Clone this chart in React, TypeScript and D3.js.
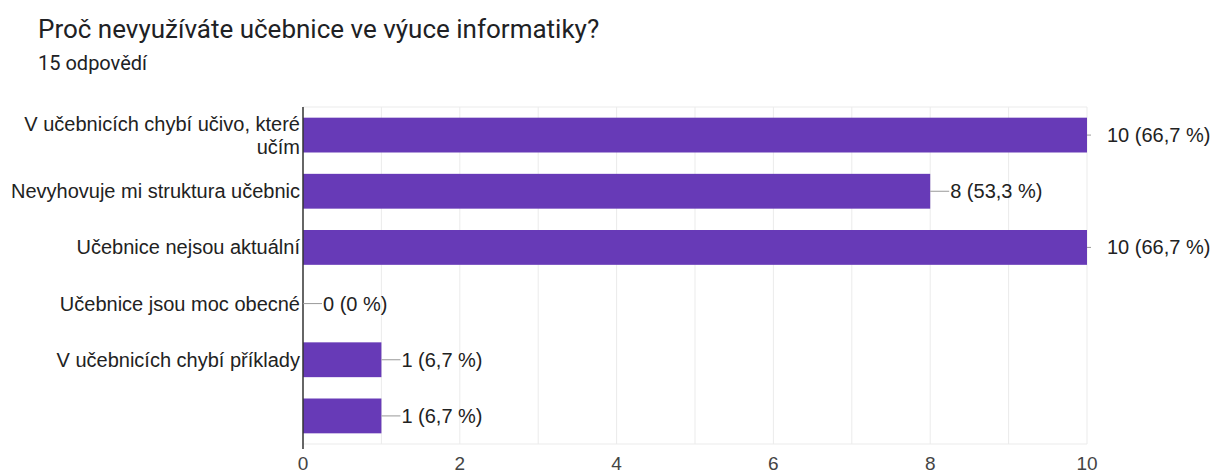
import React, { useEffect, useRef } from 'react';
import * as d3 from 'd3';

const categories = [
  ['V učebnicích chybí učivo, které', 'učím'],
  ['Nevyhovuje mi struktura učebnic'],
  ['Učebnice nejsou aktuální'],
  ['Učebnice jsou moc obecné'],
  ['V učebnicích chybí příklady'],
  [''],
];
const counts = [10, 8, 10, 0, 1, 1];
const percents = ['66,7', '53,3', '66,7', '0', '6,7', '6,7'];
const xTicks = [0, 2, 4, 6, 8, 10];

const App: React.FC = () => {
  const svgRef = useRef<SVGSVGElement>(null);

  useEffect(() => {
    if (!svgRef.current) return;
    const svg = d3.select(svgRef.current);
    svg.selectAll('*').remove();

    const width = 1215;
    const height = 474;
    const left = 303;
    const right = 1087;
    const top = 107;
    const bottom = 444;

    const x = d3.scaleLinear().domain([0, 10]).range([left, right]);
    const y = d3.scaleBand<number>()
      .domain(d3.range(categories.length))
      .range([top, bottom])
      .paddingInner(0.38)
      .paddingOuter(0.19);

    // titulek
    svg.append('text')
      .attr('x', 38).attr('y', 38)
      .style('font-family', 'Roboto, sans-serif')
      .style('font-size', '26px')
      .attr('fill', '#202124')
      .text('Proč nevyužíváte učebnice ve výuce informatiky?');

    svg.append('text')
      .attr('x', 38).attr('y', 70)
      .style('font-family', 'Roboto, sans-serif')
      .style('font-size', '20px')
      .attr('fill', '#202124')
      .text('15 odpovědí');

    // mřížka
    const grid = svg.append('g');
    grid.selectAll('line')
      .data(d3.range(1, 11))
      .enter().append('line')
      .attr('x1', (d) => x(d)).attr('x2', (d) => x(d))
      .attr('y1', top).attr('y2', bottom)
      .attr('stroke', '#ebebeb').attr('stroke-width', 1);
    grid.append('line')
      .attr('x1', left).attr('x2', right)
      .attr('y1', top).attr('y2', top)
      .attr('stroke', '#ebebeb');
    grid.append('line')
      .attr('x1', left).attr('x2', right)
      .attr('y1', bottom).attr('y2', bottom)
      .attr('stroke', '#ebebeb');

    // sloupce
    svg.selectAll('.bar')
      .data(counts)
      .enter().append('rect')
      .attr('class', 'bar')
      .attr('x', left)
      .attr('y', (_, i) => y(i)!)
      .attr('width', (d) => x(d) - left)
      .attr('height', y.bandwidth())
      .attr('fill', '#673ab7');

    // osa
    svg.append('line')
      .attr('x1', left).attr('x2', left)
      .attr('y1', top).attr('y2', bottom + 5)
      .attr('stroke', '#333').attr('stroke-width', 1.5);

    // popisky hodnot
    const lab = svg.append('g')
      .style('font-family', 'Arial, "Liberation Sans", sans-serif')
      .style('font-size', '20px');
    counts.forEach((c, i) => {
      const cy = y(i)! + y.bandwidth() / 2;
      const end = x(c);
      const isMax = c === 10;
      lab.append('line')
        .attr('x1', end).attr('x2', end + (isMax ? 4 : 19))
        .attr('y1', cy).attr('y2', cy)
        .attr('stroke', '#999').attr('stroke-width', 1);
      lab.append('text')
        .attr('x', end + 20)
        .attr('y', cy)
        .attr('dy', '0.35em')
        .attr('fill', '#222')
        .text(`${c} (${percents[i]} %)`);
    });

    // kategorie
    const cat = svg.append('g')
      .style('font-family', 'Arial, "Liberation Sans", sans-serif')
      .style('font-size', '20px')
      .attr('text-anchor', 'end')
      .attr('fill', '#222');
    categories.forEach((lines, i) => {
      const cy = y(i)! + y.bandwidth() / 2;
      const lh = 23;
      lines.forEach((t, j) => {
        cat.append('text')
          .attr('x', 300)
          .attr('y', cy + (j - (lines.length - 1) / 2) * lh)
          .attr('dy', '0.35em')
          .text(t);
      });
    });

    // osa x
    svg.append('g')
      .style('font-family', 'Arial, "Liberation Sans", sans-serif')
      .style('font-size', '19px')
      .attr('text-anchor', 'middle')
      .attr('fill', '#444')
      .selectAll('text')
      .data(xTicks)
      .enter().append('text')
      .attr('x', (d) => x(d))
      .attr('y', 470)
      .text((d) => String(d));

    svg.attr('width', width).attr('height', height);
  }, []);

  return (
    <div style={{ position: 'absolute', left: 0, top: 0, background: '#fff' }}>
      <svg ref={svgRef} style={{ display: 'block' }}></svg>
    </div>
  );
};

export default App;
